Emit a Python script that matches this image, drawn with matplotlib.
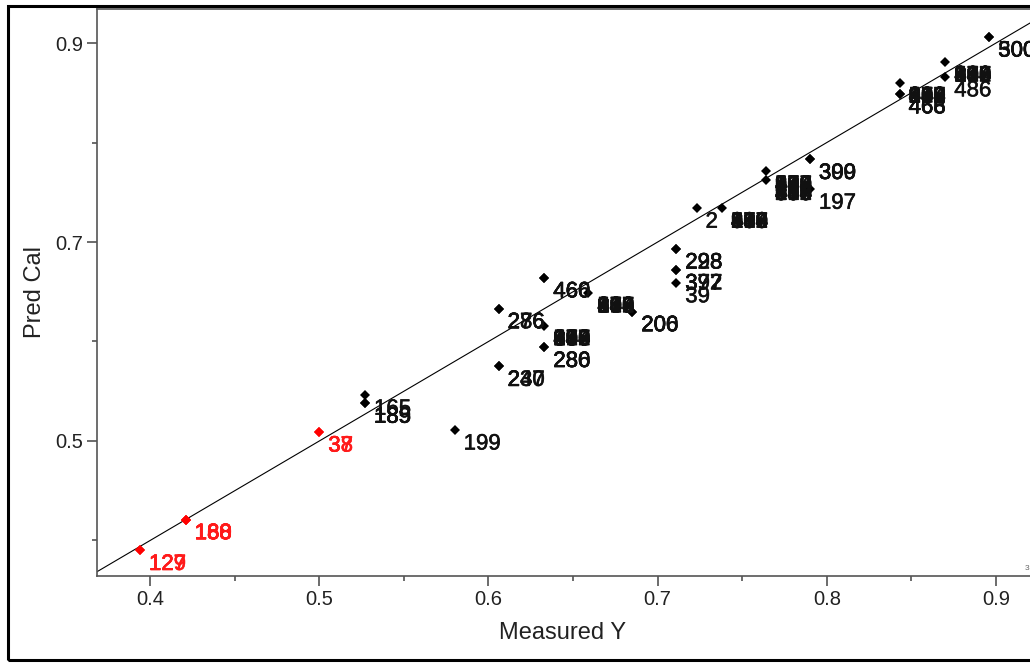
import matplotlib
matplotlib.use("Agg")
import matplotlib.pyplot as plt
import matplotlib.patheffects as pe
from matplotlib.ticker import MultipleLocator
from matplotlib.patches import Rectangle

plt.rcParams['font.family'] = ['Liberation Sans', 'DejaVu Sans']

# samples shown in red
red_x = [0.394, 0.394, 0.421, 0.421, 0.421, 0.500, 0.500]
red_y = [0.390, 0.390, 0.421, 0.421, 0.421, 0.509, 0.509]
red_ids = ["127", "129", "168", "188", "180", "37", "38"]

# samples shown in black, single spots
blk_x = [0.527, 0.527, 0.527, 0.580, 0.606, 0.606, 0.606, 0.606,
         0.633, 0.633, 0.633, 0.633, 0.685, 0.685, 0.711, 0.711,
         0.711, 0.711, 0.711, 0.723, 0.790, 0.790, 0.790, 0.843,
         0.843, 0.870, 0.896, 0.896]
blk_y = [0.546, 0.538, 0.538, 0.511, 0.633, 0.633, 0.575, 0.575,
         0.664, 0.664, 0.594, 0.594, 0.630, 0.630, 0.693, 0.693,
         0.672, 0.672, 0.659, 0.734, 0.783, 0.783, 0.753, 0.849,
         0.849, 0.866, 0.906, 0.906]
blk_ids = ["165", "185", "189", "199", "276", "286", "230", "247",
           "460", "466", "286", "280", "206", "200", "228", "298",
           "377", "392", "39", "2", "300", "399", "197", "466",
           "468", "486", "300", "500"]

# spots where many black samples sit together (ids overlap into a block)
pile_x = [0.633, 0.659, 0.738, 0.764, 0.764, 0.843, 0.870]
pile_y = [0.616, 0.649, 0.734, 0.771, 0.762, 0.860, 0.881]
pile_ids = ["108", "236", "359", "482", "547", "690", "813", "974"]

fig = plt.figure(figsize=(10.3, 6.63), dpi=100)
ax = fig.add_axes([97/1030, 87/663, (1040-97)/1030, (576-9)/663])
ax.set_xlim(0.3686, 0.926)
ax.set_ylim(0.3643, 0.9342)

# y = x reference line
ax.plot([0.3, 1.0], [0.3, 1.0], color='black', lw=0.8, zorder=1)

ax.plot(blk_x, blk_y, 'D', color='black', ms=5.4, mew=0, zorder=2)
ax.plot(pile_x, pile_y, 'D', color='black', ms=5.4, mew=0, zorder=2)
ax.plot(red_x, red_y, 'D', color='#ff0000', ms=5.4, mew=0, zorder=2)

def label(ax, xs, ys, ids, col):
    for x, y, s in zip(xs, ys, ids):
        ax.annotate(s, (x, y), xytext=(9, -14), textcoords='offset pixels',
                    ha='left', va='center', fontsize=16, color=col, zorder=3,
                    path_effects=[pe.withStroke(linewidth=0.4, foreground=col)])

label(ax, blk_x, blk_y, blk_ids, '#111111')
for px, py in zip(pile_x, pile_y):
    label(ax, [px] * len(pile_ids), [py] * len(pile_ids), pile_ids, '#111111')
label(ax, red_x, red_y, red_ids, '#ff1a1a')

ax.xaxis.set_major_locator(MultipleLocator(0.1))
ax.xaxis.set_minor_locator(MultipleLocator(0.05))
ax.xaxis.set_major_formatter(plt.FuncFormatter(lambda v, p: f"{v:.1f}"))
# labelled y ticks sit at 0.5, 0.7, 0.9
ax.set_yticks([0.5, 0.7, 0.9])
ax.set_yticks([0.4, 0.6, 0.8], minor=True)
ax.yaxis.set_major_formatter(plt.FuncFormatter(lambda v, p: f"{v:.1f}"))

ax.tick_params(which='major', length=7, width=1.1, color='#444444',
               labelsize=14.5, labelcolor='#222222', pad=3)
ax.tick_params(which='minor', length=3.5, width=1.1, color='#444444')
for side in ['left', 'bottom', 'top']:
    ax.spines[side].set_color('#555555')
    ax.spines[side].set_linewidth(1.2)
ax.spines['right'].set_visible(False)

fig.text(563/1030, 1 - 633/663, "Measured Y", ha='center', va='center',
         fontsize=17, color='#222222')
fig.text(35/1030, 1 - 292/663, "Pred Cal", ha='center', va='center',
         rotation=90, fontsize=17, color='#222222')
fig.text(1025/1030, 1 - 568/663, "3", ha='left', va='center',
         fontsize=6, color='#666666')

fig.add_artist(Rectangle((7.5/1030, 3/663), 1.1, 654/663, fill=False,
                         lw=2.2, edgecolor='black', transform=fig.transFigure))

fig.savefig("out.png", dpi=100)
